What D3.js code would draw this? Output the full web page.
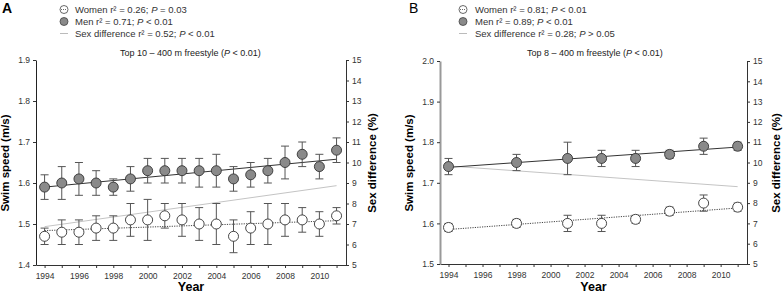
<!DOCTYPE html>
<html>
<head>
<meta charset="utf-8">
<script src="https://cdn.jsdelivr.net/npm/d3@7"></script>
<style>
	body { margin: 0; background: #fff; }
	text { font-family: "Liberation Sans", Arial, sans-serif; }
	.axis text { font-size: 8.5px; fill: #333; }
	.axis path, .axis line { stroke: #333; }
</style>
</head>
<body>
<div id="chart-area"></div>
<script>
// DATA
// ****

let yearsA = [1994, 1995, 1996, 1997, 1998, 1999, 2000, 2001, 2002, 2003, 2004, 2005, 2006, 2007, 2008, 2009, 2010, 2011]
let menA = [1.59, 1.60, 1.61, 1.60, 1.59, 1.61, 1.63, 1.63, 1.63, 1.63, 1.63, 1.61, 1.62, 1.63, 1.65, 1.67, 1.64, 1.68]
let menLoA = [1.56, 1.56, 1.57, 1.57, 1.57, 1.58, 1.60, 1.60, 1.60, 1.59, 1.59, 1.58, 1.59, 1.60, 1.61, 1.64, 1.61, 1.65]
let menHiA = [1.62, 1.64, 1.65, 1.63, 1.61, 1.64, 1.66, 1.66, 1.66, 1.66, 1.67, 1.64, 1.65, 1.66, 1.69, 1.70, 1.67, 1.71]
let womenA = [1.47, 1.48, 1.48, 1.49, 1.49, 1.51, 1.51, 1.52, 1.51, 1.50, 1.50, 1.47, 1.49, 1.50, 1.51, 1.51, 1.50, 1.52]
let womenLoA = [1.45, 1.45, 1.45, 1.46, 1.46, 1.47, 1.46, 1.49, 1.47, 1.46, 1.45, 1.43, 1.45, 1.45, 1.47, 1.48, 1.47, 1.50]
let womenHiA = [1.49, 1.51, 1.51, 1.52, 1.52, 1.55, 1.56, 1.55, 1.55, 1.54, 1.55, 1.51, 1.53, 1.55, 1.55, 1.54, 1.53, 1.54]

let yearsB = [1994, 1998, 2001, 2003, 2005, 2007, 2009, 2011]
let menB = [1.74, 1.75, 1.76, 1.76, 1.76, 1.77, 1.79, 1.79]
let menLoB = [1.72, 1.73, 1.72, 1.74, 1.74, 1.76, 1.77, 1.78]
let menHiB = [1.76, 1.77, 1.80, 1.78, 1.78, 1.78, 1.81, 1.80]
let womenB = [1.59, 1.60, 1.60, 1.60, 1.61, 1.63, 1.65, 1.64]
let womenLoB = [1.58, 1.59, 1.58, 1.58, 1.60, 1.62, 1.63, 1.63]
let womenHiB = [1.60, 1.61, 1.62, 1.62, 1.62, 1.64, 1.67, 1.65]

// regression lines, start and end (1994 -> 2011)
let fitYears = [1994, 2011]
let menFitA = [1.590, 1.658]
let womenFitA = [1.484, 1.508]
let diffFitA = [6.87, 8.87]
let menFitB = [1.738, 1.788]
let womenFitB = [1.585, 1.638]
let diffFitB = [9.83, 8.81]

// ticks
let yearTicks = [1994, 1995, 1996, 1997, 1998, 1999, 2000, 2001, 2002, 2003, 2004, 2005, 2006, 2007, 2008, 2009, 2010, 2011]
let yearLabels = [1994, 1996, 1998, 2000, 2002, 2004, 2006, 2008, 2010]
let speedTicksA = [1.4, 1.5, 1.6, 1.7, 1.8, 1.9]
let speedTicksB = [1.5, 1.6, 1.7, 1.8, 1.9, 2.0]
let diffTicks = [5, 6, 7, 8, 9, 10, 11, 12, 13, 14, 15]

let legendA = [
	["Women r² = 0.26; ", "P", " = 0.03"],
	["Men r² = 0.71; ", "P", " < 0.01"],
	["Sex difference r² = 0.52; ", "P", " < 0.01"]
]
let legendB = [
	["Women r² = 0.81; ", "P", " < 0.01"],
	["Men r² = 0.89; ", "P", " < 0.01"],
	["Sex difference r² = 0.28; ", "P", " > 0.05"]
]

// SVG
// ***

let svg = d3.select("#chart-area")
	.append("svg")
		.attr("width", 784)
		.attr("height", 293)

function drawPanel(p) {
	let g = svg.append("g")

	let x = d3.scaleLinear().domain([1993.5, 2011.55]).range([p.left, p.right])
	let y = d3.scaleLinear().domain(p.speedDomain).range([p.bottom, p.top])
	let y2 = d3.scaleLinear().domain([5, 15]).range([p.bottom, p.top])

	// AXES
	let bottomAxis = d3.axisBottom(x)
		.tickValues(yearTicks)
		.tickSize(3)
		.tickSizeOuter(0)
		.tickFormat(d => yearLabels.includes(d) ? d : "")
	g.append("g")
		.attr("class", "axis")
		.attr("transform", "translate(0, " + p.bottom + ")")
		.call(bottomAxis)
		.selectAll("text").attr("dy", "0.9em")

	let leftAxis = d3.axisLeft(y)
		.tickValues(p.speedTicks)
		.tickSize(3)
		.tickSizeOuter(0)
		.tickFormat(d3.format(".1f"))
	let la = g.append("g")
		.attr("class", "axis")
		.attr("transform", "translate(" + p.left + ", 0)")
		.call(leftAxis)
	la.select(".domain").style("stroke", p.leftColor).style("stroke-width", p.leftWidth)

	let rightAxis = d3.axisRight(y2)
		.tickValues(diffTicks)
		.tickSize(3)
		.tickSizeOuter(0)
	g.append("g")
		.attr("class", "axis")
		.attr("transform", "translate(" + p.right + ", 0)")
		.call(rightAxis)

	// TREND LINES
	let fit = (vals, scale) => d3.line()
		.x((d, i) => x(fitYears[i]))
		.y(d => scale(d))(vals)

	g.append("path")
		.attr("d", fit(p.diffFit, y2))
		.attr("fill", "none")
		.attr("stroke", "#c4c4c4")
		.attr("stroke-width", 1)

	g.append("path")
		.attr("d", fit(p.menFit, y))
		.attr("fill", "none")
		.attr("stroke", "#333")
		.attr("stroke-width", 1)

	g.append("path")
		.attr("d", fit(p.womenFit, y))
		.attr("fill", "none")
		.attr("stroke", "#444")
		.attr("stroke-width", 1)
		.attr("stroke-dasharray", "1.2,1.2")

	// ERROR BARS + MARKERS
	function series(vals, lo, hi, fill) {
		let rows = p.years.map((yr, i) => ({yr: yr, v: vals[i], lo: lo[i], hi: hi[i]}))
		let eb = g.append("g").attr("stroke", "#555").attr("stroke-width", 1)
		eb.selectAll(".stem").data(rows).enter()
			.append("line")
			.attr("x1", d => x(d.yr)).attr("x2", d => x(d.yr))
			.attr("y1", d => y(d.lo)).attr("y2", d => y(d.hi))
		eb.selectAll(".capHi").data(rows).enter()
			.append("line")
			.attr("x1", d => x(d.yr) - 4).attr("x2", d => x(d.yr) + 4)
			.attr("y1", d => y(d.hi)).attr("y2", d => y(d.hi))
		eb.selectAll(".capLo").data(rows).enter()
			.append("line")
			.attr("x1", d => x(d.yr) - 4).attr("x2", d => x(d.yr) + 4)
			.attr("y1", d => y(d.lo)).attr("y2", d => y(d.lo))
		g.append("g").selectAll("circle").data(rows).enter()
			.append("circle")
			.attr("cx", d => x(d.yr))
			.attr("cy", d => y(d.v))
			.attr("r", 5)
			.attr("fill", fill)
			.attr("stroke", "#333")
			.attr("stroke-width", 0.9)
	}
	series(p.men, p.menLo, p.menHi, "#8a8a8a")
	series(p.women, p.womenLo, p.womenHi, "#fff")

	// LABELS
	g.append("text")
		.attr("x", p.letterX)
		.attr("y", 13)
		.attr("font-size", "14px")
		.attr("font-weight", p.letterWeight)
		.text(p.letter)

	let title = g.append("text")
		.attr("x", p.titleX)
		.attr("y", 56)
		.attr("font-size", "9px")
		.style("fill", "#222")
	title.append("tspan").text(p.title + " (")
	title.append("tspan").attr("font-style", "italic").text("P")
	title.append("tspan").text(" < 0.01)")

	g.append("text")
		.attr("x", -163)
		.attr("y", p.left - 27)
		.attr("font-size", "11.5px")
		.attr("font-weight", "bold")
		.attr("text-anchor", "middle")
		.attr("transform", "rotate(-90)")
		.text("Swim speed (m/s)")

	g.append("text")
		.attr("x", -163)
		.attr("y", p.right + p.rightLabelGap)
		.attr("font-size", "11.5px")
		.attr("font-weight", "bold")
		.attr("text-anchor", "middle")
		.attr("transform", "rotate(-90)")
		.text("Sex difference (%)")

	g.append("text")
		.attr("x", (p.left + p.right) / 2)
		.attr("y", 291)
		.attr("font-size", "12.5px")
		.attr("font-weight", "bold")
		.attr("text-anchor", "middle")
		.text("Year")

	// LEGEND
	let rowsY = [9.5, 21.5, 33.5]
	p.legend.forEach((parts, i) => {
		let cy = rowsY[i]
		if (i < 2) {
			g.append("circle")
				.attr("cx", p.legX).attr("cy", cy).attr("r", 4)
				.attr("fill", i == 0 ? "#fff" : "#8a8a8a")
				.attr("stroke", "#444").attr("stroke-width", 0.8)
			if (i == 0) {
				g.append("line")
					.attr("x1", p.legX - 3).attr("x2", p.legX + 3)
					.attr("y1", cy).attr("y2", cy)
					.attr("stroke", "#444").attr("stroke-width", 0.8)
					.attr("stroke-dasharray", "1,1")
			}
		} else {
			g.append("line")
				.attr("x1", p.legX - 4).attr("x2", p.legX + 4)
				.attr("y1", cy).attr("y2", cy)
				.attr("stroke", "#bbb")
		}
		let t = g.append("text")
			.attr("x", p.legTextX)
			.attr("y", cy + 3.4)
			.attr("font-size", "9.5px")
			.style("fill", "#333")
		t.append("tspan").text(parts[0])
		t.append("tspan").attr("font-style", "italic").text(parts[1])
		t.append("tspan").text(parts[2])
	})
}

// PANEL A
// *******

drawPanel({
	left: 36, right: 346, top: 60, bottom: 265,
	speedDomain: [1.4, 1.9], speedTicks: speedTicksA,
	leftColor: "#222", leftWidth: 1,
	years: yearsA,
	men: menA, menLo: menLoA, menHi: menHiA,
	women: womenA, womenLo: womenLoA, womenHi: womenHiA,
	menFit: menFitA, womenFit: womenFitA, diffFit: diffFitA,
	letter: "A", letterX: 2, letterWeight: "bold",
	title: "Top 10 – 400 m freestyle", titleX: 120,
	legend: legendA, legX: 64, legTextX: 75, rightLabelGap: 30
})

// PANEL B
// *******

drawPanel({
	left: 440, right: 747, top: 61, bottom: 264,
	speedDomain: [1.5, 2.0], speedTicks: speedTicksB,
	leftColor: "#999", leftWidth: 2,
	years: yearsB,
	men: menB, menLo: menLoB, menHi: menHiB,
	women: womenB, womenLo: womenLoB, womenHi: womenHiB,
	menFit: menFitB, womenFit: womenFitB, diffFit: diffFitB,
	letter: "B", letterX: 409, letterWeight: "normal",
	title: "Top 8 – 400 m freestyle", titleX: 527,
	legend: legendB, legX: 463, legTextX: 475, rightLabelGap: 33
})
</script>
</body>
</html>
